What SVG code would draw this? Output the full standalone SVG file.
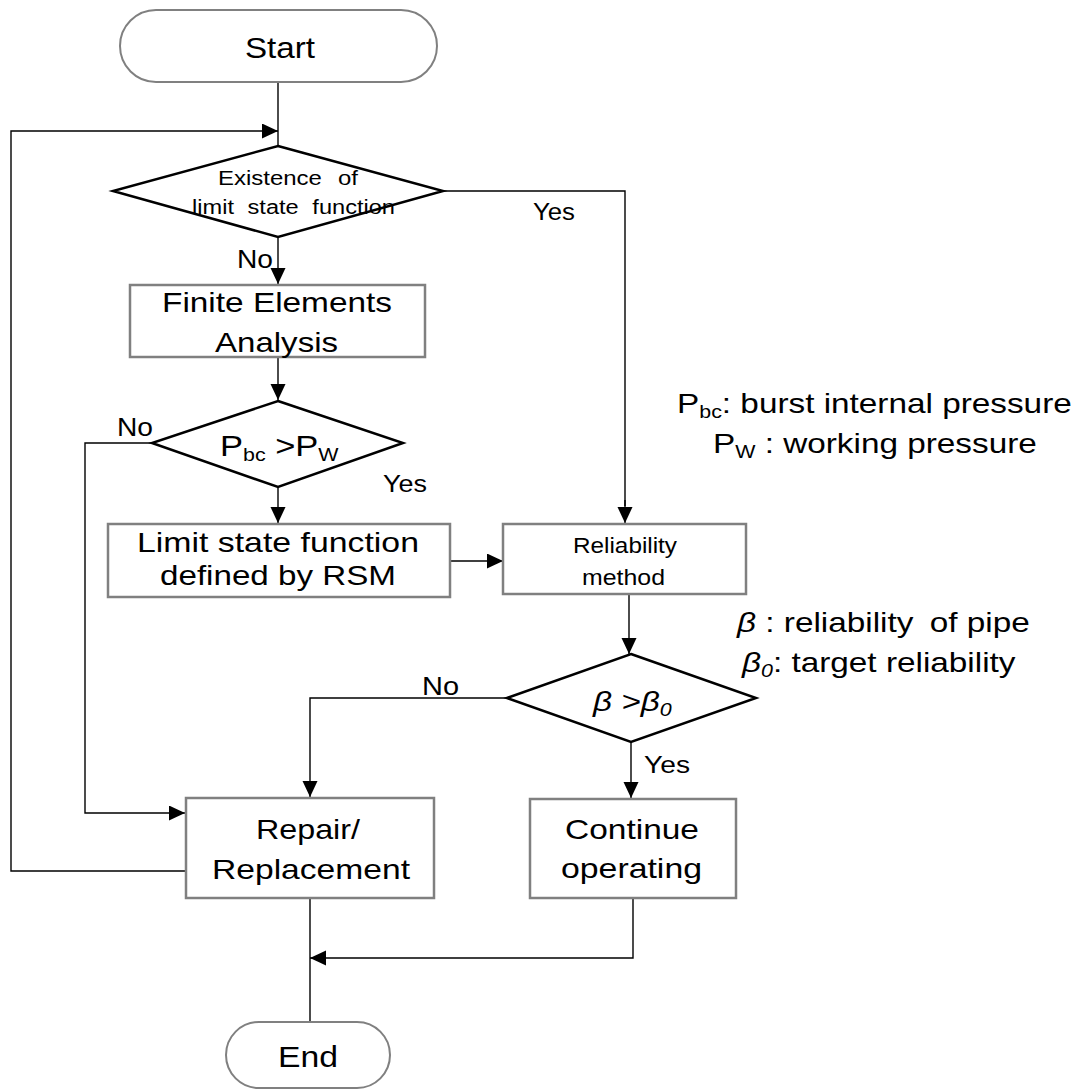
<svg xmlns="http://www.w3.org/2000/svg" width="1083" height="1091" viewBox="0 0 1083 1091">
<defs>
<marker id="ah" markerUnits="userSpaceOnUse" markerWidth="17" markerHeight="16" refX="16" refY="7.5" orient="auto">
<path d="M0,0 L16,7.5 L0,15 z" fill="#000"/>
</marker>
<style>
text{font-family:"Liberation Sans",Arial,sans-serif;fill:#000}
.pill{fill:#fff;stroke:#808080;stroke-width:2}
.box{fill:#fff;stroke:#808080;stroke-width:2.5}
.dia{fill:#fff;stroke:#000;stroke-width:2.5}
.c{fill:none;stroke:#000;stroke-width:1.4}
.a{marker-end:url(#ah)}
.it{font-style:italic}
</style>
</defs>
<rect width="1083" height="1091" fill="#fff"/>
<g id="connectors">
<path class="c" d="M278,82 V146"/>
<path class="c a" d="M186,871 H11 V131 H278"/>
<path class="c" d="M443,191 H625 V506"/>
<path class="c a" d="M625,500 V523"/>
<path class="c a" d="M278,237 V284"/>
<path class="c a" d="M278,357 V400"/>
<path class="c a" d="M278,487 V523"/>
<path class="c a" d="M450,561 H503"/>
<path class="c a" d="M629,594 V654"/>
<path class="c a" d="M152,443 H85 V813 H185"/>
<path class="c a" d="M507,698 H310 V797"/>
<path class="c a" d="M631,742 V798"/>
<path class="c a" d="M633,898 V958 H310"/>
<path class="c" d="M310,898 V1022"/>
</g>
<g id="start">
<rect class="pill" x="120" y="10" width="317" height="72" rx="36"/>
<text x="245" y="58" font-size="30" textLength="70" lengthAdjust="spacingAndGlyphs">Start</text>
</g>
<g id="d-exist">
<path class="dia" d="M278,146 L443,191 L278,237 L113,191 z"/>
<text x="218" y="185" font-size="20" word-spacing="8" textLength="140" lengthAdjust="spacingAndGlyphs">Existence of</text>
<text x="192" y="214" font-size="20" word-spacing="6" textLength="203" lengthAdjust="spacingAndGlyphs">limit state function</text>
</g>
<g id="fea">
<rect class="box" x="130" y="285" width="295" height="72"/>
<text x="162" y="312" font-size="28" textLength="230" lengthAdjust="spacingAndGlyphs">Finite Elements</text>
<text x="215" y="352" font-size="28" textLength="123" lengthAdjust="spacingAndGlyphs">Analysis</text>
</g>
<g id="d-pbc">
<path class="dia" d="M278,401 L403,443 L278,487 L152,443 z"/>
<text transform="translate(220,456) scale(1.19,1)" font-size="29">P<tspan font-size="18" dy="5">bc</tspan><tspan dy="-5"> &gt;P</tspan><tspan font-size="18" dy="5">W</tspan></text>
</g>
<g id="lsf">
<rect class="box" x="108" y="524" width="342" height="73"/>
<text x="137" y="552" font-size="28" textLength="282" lengthAdjust="spacingAndGlyphs">Limit state function</text>
<text x="160" y="585" font-size="28" textLength="236" lengthAdjust="spacingAndGlyphs">defined by RSM</text>
</g>
<g id="rel">
<rect class="box" x="503" y="524" width="243" height="70"/>
<text x="573" y="553" font-size="22" textLength="104" lengthAdjust="spacingAndGlyphs">Reliability</text>
<text x="582" y="585" font-size="22" textLength="83" lengthAdjust="spacingAndGlyphs">method</text>
</g>
<g id="d-beta">
<path class="dia" d="M631,654 L756,698 L631,742 L507,698 z"/>
<text class="it" transform="translate(593,711) scale(1.19,1)" font-size="28">β &gt;β<tspan font-size="18" dy="5">0</tspan></text>
</g>
<g id="repair">
<rect class="box" x="186" y="798" width="248" height="100"/>
<text x="256" y="839" font-size="28" textLength="104" lengthAdjust="spacingAndGlyphs">Repair/</text>
<text x="212" y="879" font-size="28" textLength="198" lengthAdjust="spacingAndGlyphs">Replacement</text>
</g>
<g id="continue">
<rect class="box" x="530" y="799" width="206" height="99"/>
<text x="565" y="839" font-size="28" textLength="134" lengthAdjust="spacingAndGlyphs">Continue</text>
<text x="561" y="878" font-size="28" textLength="141" lengthAdjust="spacingAndGlyphs">operating</text>
</g>
<g id="end">
<rect class="pill" x="226" y="1022" width="164" height="66" rx="33"/>
<text x="278" y="1067" font-size="30" textLength="60" lengthAdjust="spacingAndGlyphs">End</text>
</g>
<g id="labels">
<text x="237" y="268" font-size="25" textLength="36" lengthAdjust="spacingAndGlyphs">No</text>
<text x="533" y="220" font-size="23" textLength="42" lengthAdjust="spacingAndGlyphs">Yes</text>
<text x="117" y="436" font-size="25" textLength="36" lengthAdjust="spacingAndGlyphs">No</text>
<text x="383" y="492" font-size="23" textLength="44" lengthAdjust="spacingAndGlyphs">Yes</text>
<text x="422" y="695" font-size="25" textLength="37" lengthAdjust="spacingAndGlyphs">No</text>
<text x="644" y="773" font-size="23" textLength="46" lengthAdjust="spacingAndGlyphs">Yes</text>
</g>
<g id="legend">
<text transform="translate(677,413) scale(1.19,1)" font-size="28">P<tspan font-size="18" dy="5">bc</tspan><tspan dy="-5">: burst internal pressure</tspan></text>
<text transform="translate(713,453) scale(1.19,1)" font-size="28">P<tspan font-size="18" dy="5">W</tspan><tspan dy="-5"> : working pressure</tspan></text>
<text transform="translate(737,632) scale(1.19,1)" font-size="28"><tspan class="it">β</tspan> : reliability<tspan dx="6"> of pipe</tspan></text>
<text transform="translate(742,672) scale(1.19,1)" font-size="28"><tspan class="it">β</tspan><tspan class="it" font-size="18" dy="5">0</tspan><tspan dy="-5">: target reliability</tspan></text>
</g>
</svg>
